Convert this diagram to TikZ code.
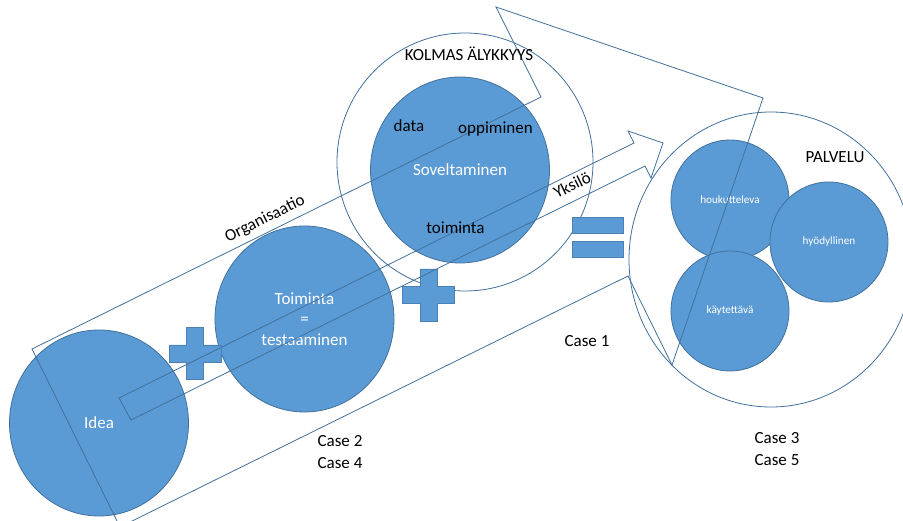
\documentclass[tikz,border=0pt]{standalone}
\usepackage{fontspec}
\setmainfont{Carlito}
\usetikzlibrary{shapes.geometric}
\definecolor{cfill}{HTML}{5B9BD5}
\definecolor{cline}{HTML}{41719C}
\begin{document}
\begin{tikzpicture}[x=1pt,y=-1pt,
  bigc/.style={ellipse, draw=cline, fill=cfill, line width=0.8pt, minimum width=179pt, minimum height=186pt, inner sep=0pt, text=white, font=\fontsize{17}{20.5}\selectfont, align=center},
  smallc/.style={ellipse, draw=cline, fill=cfill, line width=0.8pt, minimum width=118pt, minimum height=120pt, inner sep=0pt, text=white, font=\fontsize{11.2}{13}\selectfont},
  ring/.style={ellipse, draw=cline, line width=0.8pt, inner sep=0pt},
  outline/.style={draw=cline, line width=0.8pt, line join=miter},
  lbl/.style={font=\fontsize{17}{22}\selectfont, text=black, inner sep=0pt, align=center},
  eqbar/.style={fill=cfill, draw=cline!60!cfill, line width=0.6pt},
  plussign/.pic={\filldraw[eqbar] (-8.5,-26) -- (8.5,-26) -- (8.5,-8.5) -- (26,-8.5) -- (26,8.5) -- (8.5,8.5) -- (8.5,26) -- (-8.5,26) -- (-8.5,8.5) -- (-26,8.5) -- (-26,-8.5) -- (-8.5,-8.5) -- cycle;}
]
\clip (0,0) rectangle (903,521);
\fill[white] (0,0) rectangle (903,521);

% outline rings
\node[ring, minimum width=256pt, minimum height=258pt] (kolmas) at (465,162) {};
\node[ring, minimum width=284pt, minimum height=295pt] (palvelu) at (771,259.5) {};

% filled circles
\node[bigc] (idea) at (99,423) {Idea};
\node[bigc] (toim) at (304.5,319) {Toiminta\\=\\testaaminen};
\node[bigc] (sov) at (460,170) {Soveltaminen};
\node[smallc] (houk) at (730,200) {houkutteleva};
\node[smallc] (hyod) at (829,242) {hyödyllinen};
\node[smallc] (kayt) at (730,311) {käytettävä};

% plus and equals signs
\pic at (195,353.5) {plussign};
\pic at (428.5,295) {plussign};
\filldraw[eqbar] (572,217) rectangle (623,233);
\filldraw[eqbar] (572,241) rectangle (623,257);

% big arrow
\coordinate (A) at (32,349);
\coordinate (B) at (541,97);
\coordinate (C) at (496,7);
\coordinate (D) at (763,98);
\coordinate (E) at (672,365);
\coordinate (F) at (628,276);
\coordinate (G) at (120,527);
\draw[outline] (A) -- (B) -- (C) -- (D) -- (E) -- (F) -- (G) -- cycle;

% small arrow
\coordinate (a1) at (119,398);
\coordinate (a2) at (634,143);
\coordinate (a3) at (628,131);
\coordinate (a4) at (663,143);
\coordinate (a5) at (651,178);
\coordinate (a6) at (645,166);
\coordinate (a7) at (131,420);
\draw[outline] (a1) -- (a2) -- (a3) -- (a4) -- (a5) -- (a6) -- (a7) -- cycle;

% labels
\node[lbl] (kolmaslbl) at (469,54) {KOLMAS ÄLYKKYYS};
\node[lbl] (datalbl) at (409,126) {data};
\node[lbl] (oppilbl) at (495.5,129) {oppiminen};
\node[lbl] (toimlbl) at (455.5,228) {toiminta};
\node[lbl] (palvlbl) at (835,157) {PALVELU};
\node[lbl] (case1) at (587,341) {Case 1};
\node[lbl] (case24) at (340,452) {Case 2\\Case 4};
\node[lbl] (case35) at (777,449) {Case 3\\Case 5};
\node[lbl, rotate=26.4] (orglbl) at (265,219) {Organisaatio};
\node[lbl, rotate=26.4] (yksilbl) at (572,185) {Yksilö};
\end{tikzpicture}
\end{document}
